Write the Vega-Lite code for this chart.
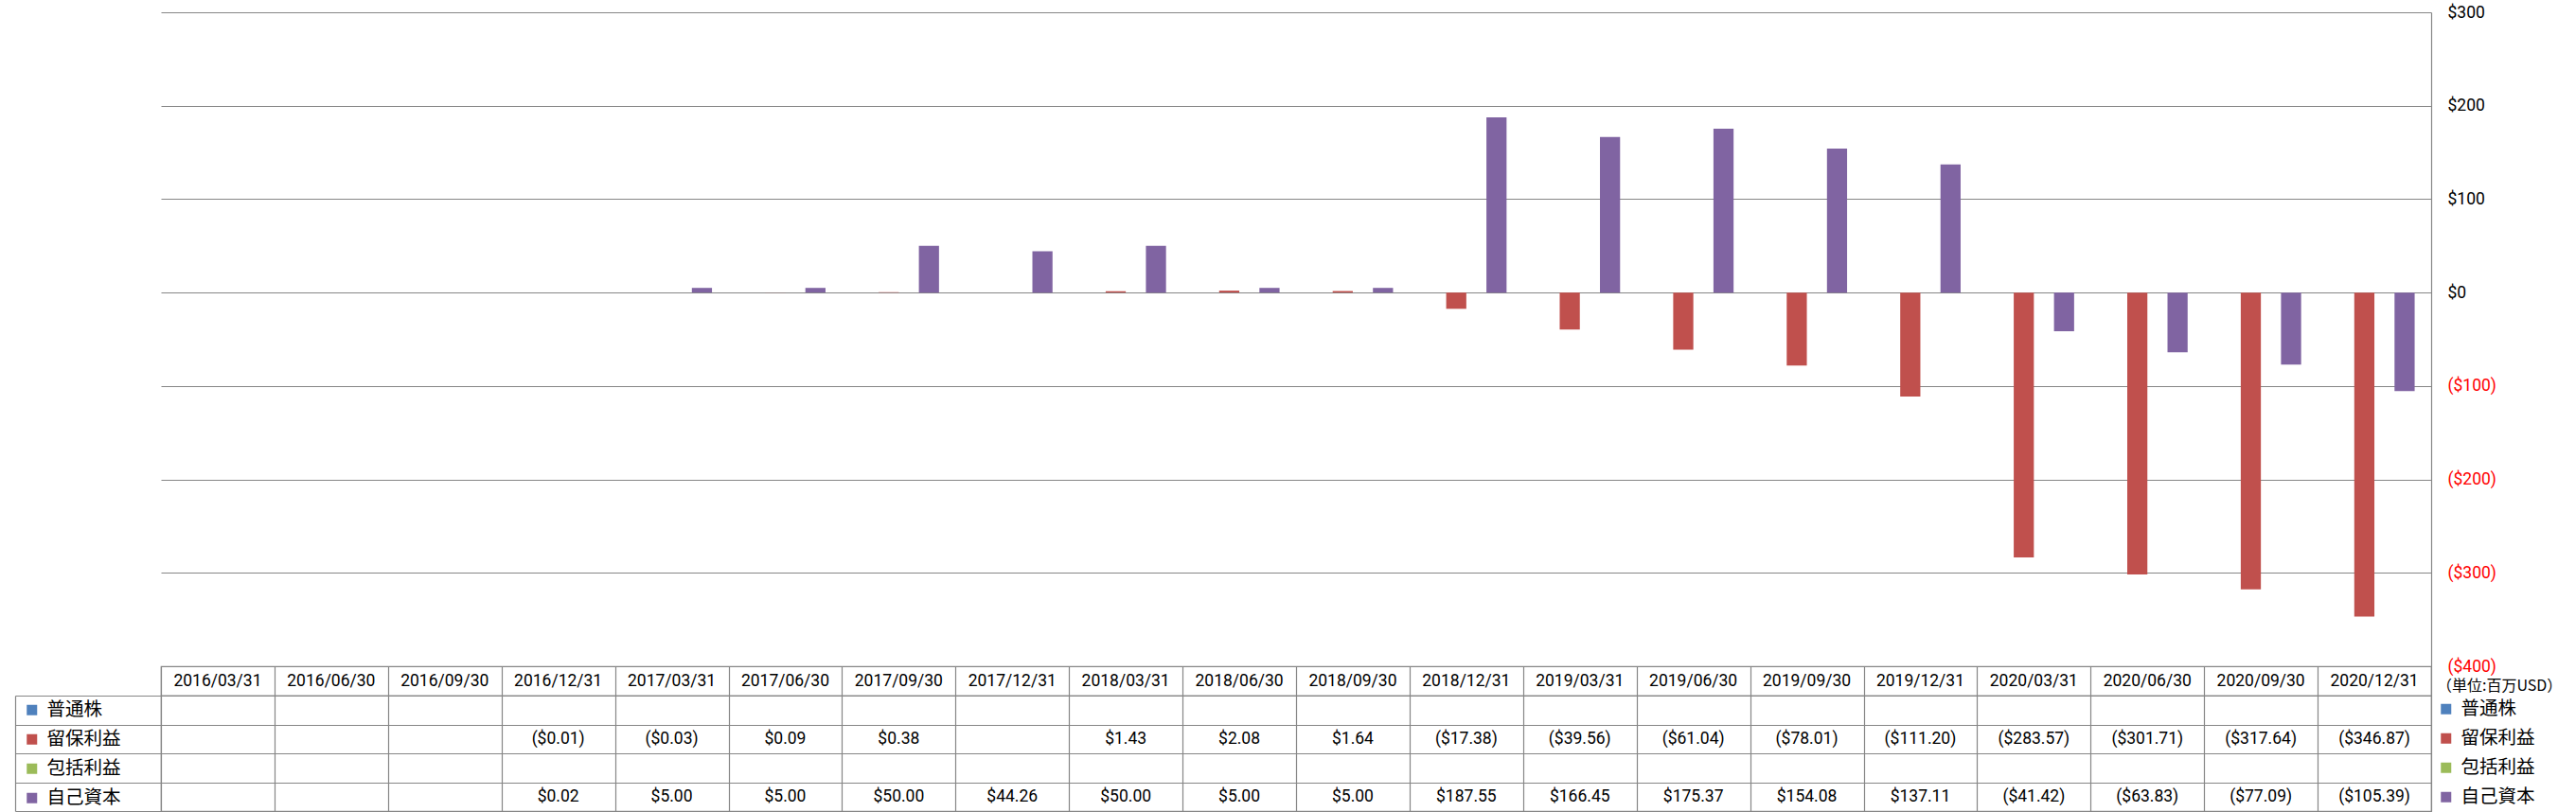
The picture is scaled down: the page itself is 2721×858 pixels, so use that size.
{
  "$schema": "https://vega.github.io/schema/vega-lite/v6.json",
  "autosize": {"type": "pad"},
  "padding": {"left": 14, "top": 4, "right": 0, "bottom": 0},
  "background": "white",
  "spacing": 0,
  "bounds": "flush",
  "config": {
    "font": "Roboto",
    "view": {"stroke": null},
    "axis": {"gridColor": "#868686", "domainColor": "#868686", "tickColor": "#868686", "gridWidth": 1.2, "domainWidth": 1.2, "tickWidth": 1.2},
    "legend": {"padding": 0}
  },
  "resolve": {"legend": {"color": "independent"}},
  "datasets": {
    "dates": [
      {"date": "2016/03/31"}, {"date": "2016/06/30"}, {"date": "2016/09/30"}, {"date": "2016/12/31"},
      {"date": "2017/03/31"}, {"date": "2017/06/30"}, {"date": "2017/09/30"}, {"date": "2017/12/31"},
      {"date": "2018/03/31"}, {"date": "2018/06/30"}, {"date": "2018/09/30"}, {"date": "2018/12/31"},
      {"date": "2019/03/31"}, {"date": "2019/06/30"}, {"date": "2019/09/30"}, {"date": "2019/12/31"},
      {"date": "2020/03/31"}, {"date": "2020/06/30"}, {"date": "2020/09/30"}, {"date": "2020/12/31"}
    ],
    "values": [
      {"date": "2016/12/31", "series": "留保利益", "value": -0.01},
      {"date": "2017/03/31", "series": "留保利益", "value": -0.03},
      {"date": "2017/06/30", "series": "留保利益", "value": 0.09},
      {"date": "2017/09/30", "series": "留保利益", "value": 0.38},
      {"date": "2018/03/31", "series": "留保利益", "value": 1.43},
      {"date": "2018/06/30", "series": "留保利益", "value": 2.08},
      {"date": "2018/09/30", "series": "留保利益", "value": 1.64},
      {"date": "2018/12/31", "series": "留保利益", "value": -17.38},
      {"date": "2019/03/31", "series": "留保利益", "value": -39.56},
      {"date": "2019/06/30", "series": "留保利益", "value": -61.04},
      {"date": "2019/09/30", "series": "留保利益", "value": -78.01},
      {"date": "2019/12/31", "series": "留保利益", "value": -111.20},
      {"date": "2020/03/31", "series": "留保利益", "value": -283.57},
      {"date": "2020/06/30", "series": "留保利益", "value": -301.71},
      {"date": "2020/09/30", "series": "留保利益", "value": -317.64},
      {"date": "2020/12/31", "series": "留保利益", "value": -346.87},
      {"date": "2016/12/31", "series": "自己資本", "value": 0.02},
      {"date": "2017/03/31", "series": "自己資本", "value": 5.00},
      {"date": "2017/06/30", "series": "自己資本", "value": 5.00},
      {"date": "2017/09/30", "series": "自己資本", "value": 50.00},
      {"date": "2017/12/31", "series": "自己資本", "value": 44.26},
      {"date": "2018/03/31", "series": "自己資本", "value": 50.00},
      {"date": "2018/06/30", "series": "自己資本", "value": 5.00},
      {"date": "2018/09/30", "series": "自己資本", "value": 5.00},
      {"date": "2018/12/31", "series": "自己資本", "value": 187.55},
      {"date": "2019/03/31", "series": "自己資本", "value": 166.45},
      {"date": "2019/06/30", "series": "自己資本", "value": 175.37},
      {"date": "2019/09/30", "series": "自己資本", "value": 154.08},
      {"date": "2019/12/31", "series": "自己資本", "value": 137.11},
      {"date": "2020/03/31", "series": "自己資本", "value": -41.42},
      {"date": "2020/06/30", "series": "自己資本", "value": -63.83},
      {"date": "2020/09/30", "series": "自己資本", "value": -77.09},
      {"date": "2020/12/31", "series": "自己資本", "value": -105.39}
    ]
  },
  "vconcat": [
    {
      "width": 2398,
      "height": 691,
      "data": {"name": "values"},
      "mark": {"type": "bar"},
      "encoding": {
        "x": {
          "field": "date", "type": "nominal",
          "scale": {"domain": ["2016/03/31","2016/06/30","2016/09/30","2016/12/31","2017/03/31","2017/06/30","2017/09/30","2017/12/31","2018/03/31","2018/06/30","2018/09/30","2018/12/31","2019/03/31","2019/06/30","2019/09/30","2019/12/31","2020/03/31","2020/06/30","2020/09/30","2020/12/31"], "paddingInner": 0, "paddingOuter": 0},
          "axis": null
        },
        "xOffset": {
          "field": "series", "type": "nominal",
          "scale": {"domain": ["普通株","留保利益","包括利益","自己資本"], "paddingInner": 0, "paddingOuter": 0.82}
        },
        "y": {
          "field": "value", "type": "quantitative",
          "scale": {"domain": [-400, 300], "nice": false, "zero": false},
          "axis": {
            "orient": "right", "title": null,
            "values": [-400, -300, -200, -100, 0, 100, 200, 300],
            "format": "($.0f",
            "grid": true, "ticks": false, "domain": true,
            "labelPadding": 17, "labelFontSize": 17.5, "labelFlush": false,
            "labelColor": {"condition": {"test": "datum.value < 0", "value": "#ff0000"}, "value": "#000000"}
          }
        },
        "color": {
          "field": "series", "type": "nominal",
          "scale": {"domain": ["普通株","留保利益","包括利益","自己資本"], "range": ["#4F81BD","#C0504D","#9BBB59","#8064A2"]},
          "legend": {
            "orient": "none", "legendX": 2404, "legendY": 704,
            "title": "（単位:百万USD）",
            "titleFont": "Noto Sans CJK JP", "titleFontSize": 16, "titleFontWeight": "normal", "titleColor": "#000000",
            "titlePadding": 1, "titleLimit": 400,
            "symbolType": "square", "symbolSize": 121, "symbolStrokeWidth": 0,
            "labelFont": "Noto Sans CJK JP", "labelFontSize": 19.5, "labelColor": "#000000", "labelOffset": 6,
            "clipHeight": 30.5, "rowPadding": 0
          }
        }
      }
    },
    {
      "width": 2398,
      "height": 31,
      "view": {"stroke": "#868686", "strokeWidth": 1.2},
      "data": {"name": "dates"},
      "mark": {"type": "text", "fontSize": 17.5, "color": "#000000"},
      "encoding": {
        "x": {
          "field": "date", "type": "nominal",
          "scale": {"domain": ["2016/03/31","2016/06/30","2016/09/30","2016/12/31","2017/03/31","2017/06/30","2017/09/30","2017/12/31","2018/03/31","2018/06/30","2018/09/30","2018/12/31","2019/03/31","2019/06/30","2019/09/30","2019/12/31","2020/03/31","2020/06/30","2020/09/30","2020/12/31"], "paddingInner": 0, "paddingOuter": 0},
          "axis": {"grid": true, "tickBand": "extent", "labels": false, "ticks": false, "domain": false, "title": null}
        },
        "text": {"field": "date", "type": "nominal"}
      }
    },
    {
      "width": 2398,
      "height": 122,
      "view": {"stroke": "#868686", "strokeWidth": 1.2},
      "data": {"name": "values"},
      "encoding": {
        "x": {
          "field": "date", "type": "nominal",
          "scale": {"domain": ["2016/03/31","2016/06/30","2016/09/30","2016/12/31","2017/03/31","2017/06/30","2017/09/30","2017/12/31","2018/03/31","2018/06/30","2018/09/30","2018/12/31","2019/03/31","2019/06/30","2019/09/30","2019/12/31","2020/03/31","2020/06/30","2020/09/30","2020/12/31"], "paddingInner": 0, "paddingOuter": 0},
          "axis": {"grid": true, "tickBand": "extent", "labels": false, "ticks": false, "domain": false, "title": null}
        },
        "y": {
          "field": "series", "type": "nominal",
          "scale": {"domain": ["普通株","留保利益","包括利益","自己資本"], "paddingInner": 0, "paddingOuter": 0},
          "axis": {"orient": "left", "offset": 154, "tickSize": -154, "tickBand": "extent", "labels": false, "title": null, "grid": true, "domain": true, "ticks": true}
        }
      },
      "layer": [
        {
          "mark": {"type": "rect", "opacity": 0},
          "encoding": {
            "color": {
              "field": "series", "type": "nominal",
              "scale": {"domain": ["普通株","留保利益","包括利益","自己資本"], "range": ["#4F81BD","#C0504D","#9BBB59","#8064A2"]},
              "legend": {
                "orient": "none", "legendX": -146, "legendY": 0,
                "title": null,
                "symbolType": "square", "symbolSize": 121, "symbolStrokeWidth": 0, "symbolOpacity": 1,
                "labelFont": "Noto Sans CJK JP", "labelFontSize": 19.5, "labelColor": "#000000", "labelOffset": 6,
                "clipHeight": 30.5, "rowPadding": 0
              }
            }
          }
        },
        {
          "mark": {"type": "text", "fontSize": 17.5, "color": "#000000"},
          "encoding": {
            "text": {"field": "value", "type": "quantitative", "format": "($.2f"}
          }
        }
      ]
    }
  ]
}
